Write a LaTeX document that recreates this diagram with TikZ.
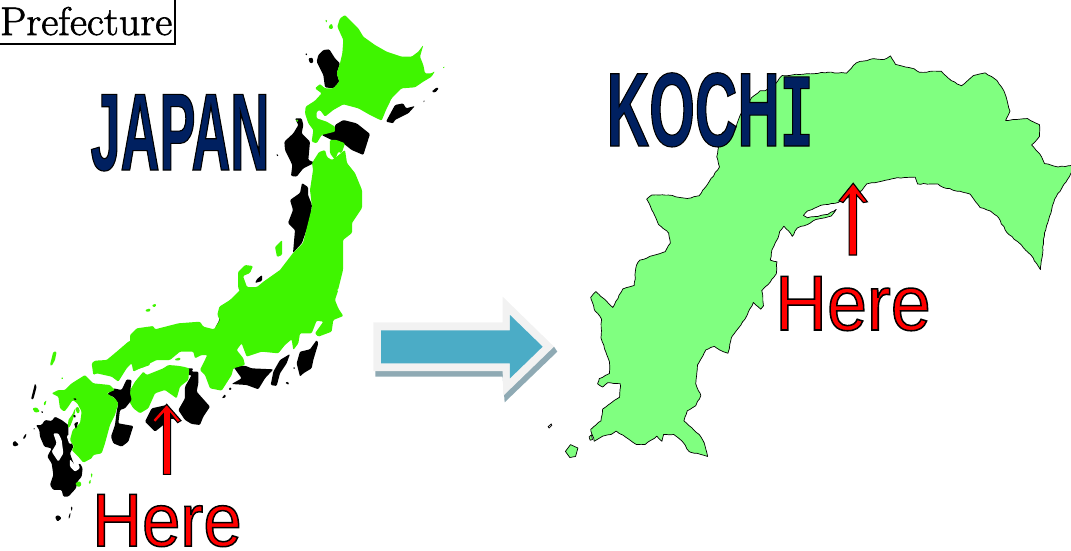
\documentclass[tikz,border=0pt]{standalone}
\usepackage{fontspec}
\usetikzlibrary{decorations.pathmorphing}
\newfontfamily\preffont[FakeBold=1.6,FakeStretch=1.05]{Latin Modern Roman}
\newfontfamily\titlefont[UprightFont={* Bold},FakeBold=1,FakeStretch=0.49]{Liberation Sans}
\newfontfamily\kochifont[UprightFont={* Bold},FakeBold=1,FakeStretch=0.56]{Liberation Sans}
\newfontfamily\kochii[UprightFont={* Bold},FakeBold=1,FakeStretch=0.53]{Liberation Mono}
\newfontfamily\herefont[FakeBold=2,FakeStretch=0.92]{Liberation Sans}
\definecolor{jpgreen}{HTML}{3FF500}
\definecolor{kochigreen}{HTML}{80FF80}
\definecolor{navytxt}{HTML}{002060}
\definecolor{arrowblue}{HTML}{4BACC6}
\definecolor{arrowrim}{HTML}{F2F2F2}
\definecolor{arrowshade}{HTML}{8FAAB4}
\newcommand{\blackstroke}{\special{pdf:code 0 0 0 RG}}
\pgfmathsetseed{7}
\tikzset{
  gland/.style={fill=jpgreen,rounded corners=1.1pt},
  bland/.style={fill=black,rounded corners=1.1pt},
  wland/.style={fill=white,rounded corners=1.1pt},
  kland/.style={fill=kochigreen,draw=black,line width=0.7pt,line join=round},
  kcoast/.style={kland,decorate,decoration={random steps,segment length=3.5pt,amplitude=0.45pt}},
  redarrow/.style={fill=red,draw=black,line width=1.1pt,line join=miter},
  titletext/.style={anchor=base,inner sep=0pt,text=navytxt},
  heretext/.style={anchor=base,inner sep=0pt,text=red},
  zoomA/.style={shift={(0,340)},x=0.3333pt,y=-0.3333pt},
  zoomB/.style={shift={(130,300)},x=0.3333pt,y=-0.3333pt},
  zoomC/.style={shift={(280,10)},x=0.3333pt,y=-0.3333pt}
}
\begin{document}
\begin{tikzpicture}[x=1pt,y=-1pt]
\useasboundingbox (0,0) rectangle (1071,550);
\clip (0,0) rectangle (1071,550);
% north
\begin{scope}[zoomC]
\fill[bland] (130,120)--(148,118)--(165,145)--(180,160)--(170,190)--(178,215)--(160,235)--(135,232)--(130,195)--(110,155)--(115,135)--cycle;
\fill[bland] (75,130)--(82,130)--(80,138)--cycle;
\fill[bland] (85,145)--(98,143)--(100,158)--(90,160)--cycle;
\fill[bland] (318,335)--(345,285)--(370,280)--(378,295)--(405,288)--(385,310)--(365,320)--(345,330)--(340,340)--cycle;
\fill[bland] (455,245)--(470,232)--(477,235)--(465,248)--cycle;
\fill[bland] (428,275)--(435,270)--(433,277)--cycle;
\fill[bland] (165,345)--(190,330)--(230,340)--(270,372)--(250,435)--(215,420)--(190,400)--(155,390)--(125,375)--(140,365)--(165,365)--cycle;
\fill[bland] (45,325)--(65,325)--(70,345)--(65,370)--(90,395)--(85,450)--(105,458)--(70,475)--(50,500)--(33,498)--(37,465)--(15,420)--(13,395)--(40,370)--(55,345)--cycle;
\fill[gland] (195,15)--(210,30)--(235,55)--(250,80)--(285,105)--(320,125)--(365,140)--(395,140)--(415,125)--(430,105)--(420,140)--(430,165)--(435,190)--(455,190)--(465,183)--(455,200)--(430,215)--(405,232)--(365,235)--(335,265)--(318,300)--(305,332)--(270,315)--(235,295)--(190,283)--(160,300)--(135,320)--(120,300)--(110,305)--(110,325)--(140,335)--(165,350)--(165,365)--(125,375)--(110,400)--(95,395)--(100,360)--(85,340)--(75,310)--(77,290)--(105,272)--(125,250)--(105,235)--(120,222)--(135,235)--(160,235)--(178,215)--(170,190)--(180,160)--(187,130)--(190,90)--(172,50)--(180,25)--cycle;
\fill[gland] (135,30)--(141,29)--(142,36)--(137,36)--cycle;
\fill[gland] (145,50)--(155,40)--(160,55)--(150,58)--cycle;
\fill[gland] (487,175)--(494,168)--(494,174)--cycle;
\fill[gland] (48,328)--(54,328)--(54,336)--(49,335)--cycle;
\fill[gland] (150,390)--(170,390)--(195,400)--(185,430)--(175,425)--(165,450)--(150,430)--cycle;
\end{scope}
% Sea of Japan side, Tohoku
\fill[bland] (302,183)--(308,187)--(308,195)--(312,205)--(310,220)--(302,243)--(293,253)--(295,230)--(288,223)--(293,210)--(290,200)--(300,193)--cycle;
\fill[bland] (257,279)--(262,275)--(262,281)--(255,283)--cycle;
\fill[bland] (276,154)--(278,154)--(278,157)--cycle;
\fill[gland] (275,247)--(282,240)--(282,255)--(277,257)--cycle;
\fill[gland] (319,152)--(325,150)--(327,157)--(332,160)--(335,158)--(345,150)--(347,163)--(355,173)--(362,190)--(362,208)--(352,223)--(352,233)--(343,240)--(343,257)--(343,270)--(338,290)--(240,292)--(238,287)--(238,272)--(245,265)--(253,266)--(250,273)--(243,276)--(247,287)--(257,287)--(263,282)--(280,270)--(293,253)--(303,243)--(312,207)--(310,190)--(313,170)--(312,163)--cycle;
% Central Honshu and Shikoku
\begin{scope}[zoomB]
\fill[bland] (172,205)--(190,205)--(185,215)--(205,215)--(205,250)--(200,275)--(240,320)--(220,350)--(210,375)--(185,372)--(165,360)--(145,330)--(165,295)--(165,260)--(185,225)--(172,225)--cycle;
\fill[bland] (45,365)--(65,325)--(110,315)--(150,365)--(125,355)--(75,395)--(65,385)--cycle;
\fill[bland] (310,200)--(345,197)--(365,205)--(430,208)--(405,235)--(385,268)--(350,255)--(305,252)--(335,235)--cycle;
\fill[bland] (422,255)--(430,215)--(450,180)--(480,162)--(470,190)--(450,220)--(440,258)--cycle;
\fill[bland] (510,230)--(500,190)--(510,155)--(540,148)--(560,120)--(565,130)--(550,180)--(545,205)--(520,220)--cycle;
\fill[bland] (275,295)--(285,282)--(288,292)--cycle;
\fill[bland] (295,265)--(305,262)--(302,272)--cycle;
\fill[bland] (465,248)--(475,245)--(477,255)--cycle;
\fill[bland] (490,200)--(497,205)--(490,208)--cycle;
\fill[bland] (265,40)--(300,0)--(275,40)--(280,65)--(255,85)--(268,60)--cycle;
\fill[gland] (0,105)--(20,85)--(70,78)--(75,88)--(145,70)--(210,65)--(220,80)--(252,88)--(270,60)--(262,45)--(268,20)--(300,0)--(330,-30)--(625,-30)--(615,0)--(625,25)--(640,48)--(610,60)--(605,95)--(565,110)--(555,100)--(580,65)--(560,62)--(545,100)--(510,100)--(505,130)--(490,150)--(485,118)--(465,135)--(445,160)--(395,155)--(350,170)--(335,130)--(320,150)--(340,175)--(345,195)--(310,205)--(305,225)--(275,272)--(240,265)--(225,225)--(210,210)--(232,165)--(215,165)--(195,175)--(190,155)--(150,155)--(120,180)--(80,180)--(50,195)--(45,200)--(15,210)--(5,190)--(0,180)--cycle;
\fill[gland] (140,197)--(160,200)--(178,205)--(175,240)--(150,260)--(140,295)--(105,270)--(75,280)--(55,325)--(30,340)--(10,325)--(-5,300)--(-8,285)--(15,245)--(40,215)--(50,225)--(100,205)--(115,195)--cycle;
\fill[gland] (133,178)--(150,172)--(152,180)--(138,182)--cycle;
\fill[gland] (45,30)--(60,25)--(62,33)--(50,36)--cycle;
\fill[gland] (66,15)--(78,11)--(78,20)--(68,21)--cycle;
\end{scope}
% Kyushu
\begin{scope}[zoomA]
\fill[bland] (108,255)--(125,255)--(135,240)--(155,243)--(165,230)--(185,240)--(205,255)--(205,285)--(220,320)--(210,340)--(215,355)--(225,380)--(240,370)--(248,385)--(245,410)--(232,425)--(228,445)--(205,470)--(190,470)--(185,450)--(160,450)--(150,435)--(160,405)--(155,370)--(142,350)--(155,325)--(133,320)--(120,290)--(118,270)--cycle;
\fill[wland] (160,280)--(175,280)--(185,300)--(190,340)--(175,365)--(165,350)--(155,335)--(170,310)--cycle;
\fill[wland] (200,288)--(212,280)--(218,310)--(208,312)--cycle;
\fill[wland] (210,358)--(225,375)--(235,370)--(240,385)--(225,395)--(210,380)--cycle;
\fill[bland] (380,118)--(395,120)--(390,160)--(395,180)--(375,205)--(360,210)--(355,250)--(400,258)--(385,305)--(365,320)--(340,310)--(333,290)--(345,255)--(350,215)--(355,190)--(340,170)--(320,165)--(340,145)--(365,150)--cycle;
\fill[gland] (155,160)--(175,150)--(195,150)--(215,130)--(255,105)--(280,130)--(330,135)--(345,150)--(320,160)--(345,175)--(355,190)--(345,225)--(330,255)--(315,310)--(305,340)--(280,345)--(275,355)--(250,368)--(235,350)--(215,330)--(222,320)--(210,300)--(218,270)--(240,250)--(245,215)--(232,190)--(218,180)--(205,200)--(193,215)--(180,205)--(175,170)--cycle;
\fill[gland] (275,70)--(285,62)--(320,60)--(350,35)--(385,5)--(450,-25)--(450,75)--(420,85)--(400,95)--(395,70)--(380,85)--(355,125)--(335,110)--(290,100)--(280,105)--cycle;
\fill[gland] (205,240)--(218,222)--(225,205)--(226,215)--(218,240)--(210,260)--(204,265)--cycle;
\fill[gland] (225,205)--(235,200)--(240,215)--(233,222)--cycle;
\fill[bland] (218,175)--(230,175)--(228,182)--cycle;
\fill[bland] (218,225)--(228,225)--(225,235)--cycle;
\fill[bland] (222,250)--(235,245)--(228,268)--cycle;
\fill[bland] (93,178)--(100,150)--(105,130)--(110,140)--(100,178)--cycle;
\fill[gland] (150,75)--(160,35)--(170,35)--(165,60)--(155,78)--cycle;
\fill[gland] (183,112)--(190,112)--(187,120)--cycle;
\fill[gland] (130,190)--(140,180)--(135,198)--cycle;
\fill[gland] (97,205)--(110,202)--(120,215)--(105,218)--cycle;
\fill[bland] (123,212)--(130,215)--(127,222)--cycle;
\fill[bland] (68,295)--(78,280)--(80,285)--(73,298)--cycle;
\fill[bland] (97,267)--(105,265)--(105,268)--cycle;
\fill[bland] (37,310)--(45,302)--(57,315)--(42,320)--cycle;
\fill[bland] (165,530)--(175,525)--(185,535)--(172,545)--cycle;
\fill[bland] (205,535)--(209,520)--(212,520)--(209,535)--cycle;
\fill[bland] (212,500)--(218,500)--(215,515)--cycle;
\fill[gland] (225,430)--(240,423)--(245,435)--(235,442)--cycle;
\fill[gland] (265,430)--(272,417)--(272,432)--cycle;
\fill[gland] (272,400)--(278,400)--(275,415)--cycle;
\end{scope}
% Prefecture label
\node[draw=black,line width=2pt,anchor=base west,inner xsep=3pt,inner ysep=9pt,font=\preffont\fontsize{40}{40}\selectfont] (pref) at (-5,35) {\hspace{1pt}Prefecture};
% Kochi map
\begin{scope}[shift={(540,40)},x=0.3386pt,y=-0.3386pt]
\filldraw[kcoast] (530,375)--(522,345)--(535,290)--(540,272)--(575,268)--(590,225)--(625,170)--(650,150)--(665,150)--(695,130)--(715,105)--(800,100)--(850,95)--(905,98)--(935,67)--(985,55)--(1015,58)--(1035,47)--(1050,72)--(1105,85)--(1120,95)--(1185,92)--(1215,120)--(1245,135)--(1280,105)--(1315,97)--(1350,120)--(1370,150)--(1388,210)--(1375,238)--(1440,232)--(1475,250)--(1475,285)--(1452,310)--(1475,335)--(1490,365)--(1530,375)--(1575,370)--(1575,385)--(1520,470)--(1490,570)--(1478,678)--(1450,635)--(1410,595)--(1380,570)--(1350,520)--(1330,505)--(1300,495)--(1270,455)--(1190,435)--(1175,425)--(1115,425)--(1108,405)--(1050,408)--(965,425)--(950,445)--(880,480)--(830,488)--(790,505)--(778,518)--(790,525)--(850,515)--(875,500)--(860,520)--(815,530)--(790,545)--(760,555)--(745,580)--(735,565)--(720,550)--(708,565)--(700,590)--(685,620)--(680,650)--(700,655)--(698,690)--(680,715)--(655,740)--(660,785)--(652,795)--(630,775)--(605,825)--(565,880)--(555,925)--(540,920)--(515,905)--(490,915)--(465,960)--(460,1015)--(475,1050)--(460,1080)--(435,1095)--(425,1125)--(470,1165)--(485,1190)--(495,1230)--(440,1215)--(420,1185)--(395,1165)--(365,1165)--(360,1185)--(345,1170)--(310,1195)--(285,1195)--(270,1185)--(225,1155)--(210,1165)--(185,1170)--(160,1185)--(150,1150)--(180,1125)--(185,1090)--(235,1055)--(237,1015)--(200,1012)--(185,1025)--(170,1015)--(175,1000)--(205,985)--(205,950)--(180,880)--(182,825)--(160,795)--(150,760)--(165,743)--(190,765)--(215,790)--(245,735)--(278,725)--(285,665)--(295,650)--(370,625)--(385,600)--(380,570)--(350,545)--(335,510)--(315,470)--(330,458)--(380,458)--(435,468)--(470,460)--cycle;
\filldraw[kland] (75,1215)--(90,1195)--(112,1205)--(105,1230)--(88,1233)--cycle;
\filldraw[kland] (145,1172)--(152,1166)--(155,1180)--(148,1182)--cycle;
\filldraw[fill=white,draw=black,line width=0.7pt] (24,1142)--(33,1134)--(35,1138)--(27,1146)--cycle;
\filldraw[redarrow] (925,423)--(967,478)--(955,480)--(935,458)--(935,635)--(913,635)--(913,458)--(895,480)--(883,475)--cycle;
\end{scope}
% Big arrow
\begin{scope}[shift={(360,285)},x=0.3333pt,y=-0.3333pt]
\fill[arrowshade] (46,258)--(46,275)--(428,275)--(434,352)--(592,200)--(582,185)--(428,258)--cycle;
\fill[arrowrim] (40,112)--(428,112)--(428,35)--(582,185)--(430,332)--(428,258)--(40,258)--cycle;
\fill[arrowblue] (63,136)--(450,136)--(450,90)--(548,185)--(450,280)--(450,235)--(63,235)--cycle;
\end{scope}
% Japan arrow
\begin{scope}[shift={(0,270)},x=0.3333pt,y=-0.3333pt]
\filldraw[redarrow] (500,403)--(543,452)--(533,458)--(512,432)--(512,613)--(490,613)--(490,432)--(466,458)--(458,450)--cycle;
\end{scope}
% Labels
\node[titletext,font=\titlefont\fontsize{110}{110}\selectfont] (japan) at (180,170) {\blackstroke JAPAN};
\node[titletext,font=\kochifont\fontsize{105}{105}\selectfont] (kochi) at (710,146) {\blackstroke KOCH{\kochii\fontsize{105}{105}\selectfont I}};
\node[heretext,font=\herefont\fontsize{75}{75}\selectfont] (hereA) at (167,546) {\blackstroke Here};
\node[heretext,font=\herefont\fontsize{78}{78}\selectfont] (hereB) at (853,330) {\blackstroke Here};
\end{tikzpicture}
\end{document}
